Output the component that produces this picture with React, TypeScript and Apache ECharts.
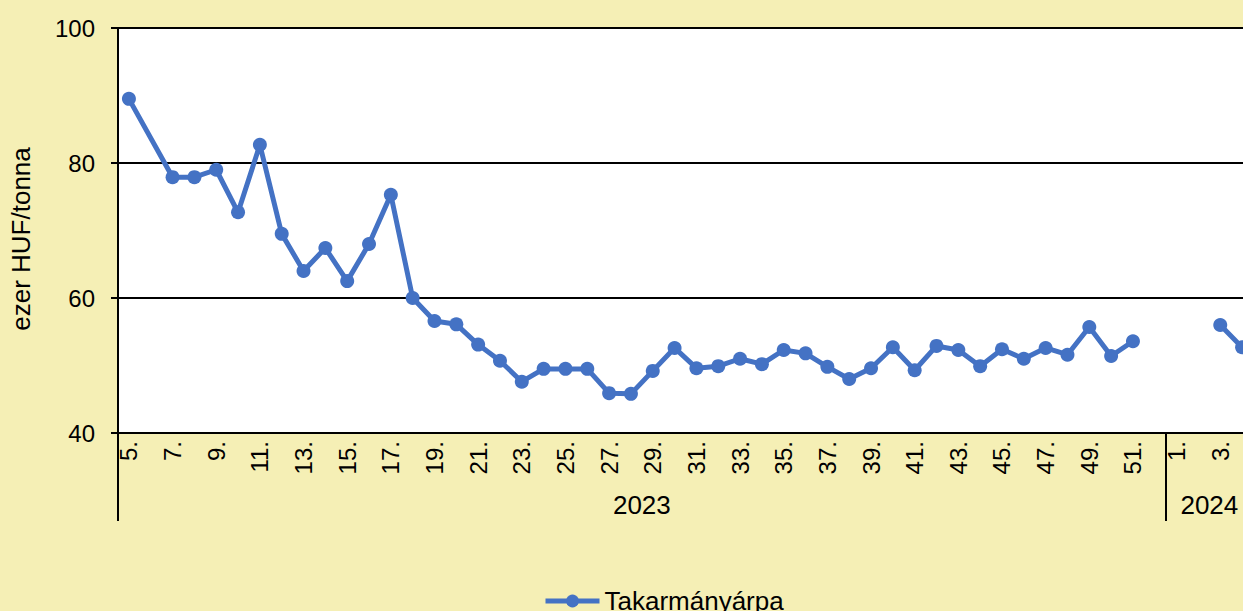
import React, { useEffect, useRef } from "react";
import * as echarts from "echarts";

const weeks2023 = [
  "5.", "6.", "7.", "8.", "9.", "10.", "11.", "12.", "13.", "14.", "15.", "16.",
  "17.", "18.", "19.", "20.", "21.", "22.", "23.", "24.", "25.", "26.", "27.", "28.",
  "29.", "30.", "31.", "32.", "33.", "34.", "35.", "36.", "37.", "38.", "39.", "40.",
  "41.", "42.", "43.", "44.", "45.", "46.", "47.", "48.", "49.", "50.", "51.", "52.",
];
const weeks2024 = ["1.", "2.", "3.", "4."];
const categories = [...weeks2023, ...weeks2024];
const yearLabels = ["2023", "2024"];

// null = gap in the line; week 6 has no value but the line runs across it
const values2023: (number | null)[] = [
  89.5, null, 77.9, 77.9, 79.0, 72.7, 82.7, 69.5, 64.0, 67.4, 62.5, 68.0,
  75.3, 60.0, 56.6, 56.1, 53.1, 50.7, 47.6, 49.5, 49.5, 49.5, 45.9, 45.8,
  49.2, 52.6, 49.6, 49.9, 51.0, 50.2, 52.3, 51.8, 49.8, 48.0, 49.6, 52.7,
  49.3, 52.9, 52.3, 49.9, 52.4, 51.0, 52.6, 51.6, 55.7, 51.4, 53.6, null,
];
const values2024: (number | null)[] = [null, null, 56.0, 52.7];
const connectedGaps = ["6."];
const seriesName = "Takarmányárpa";
const yTicks = [40, 60, 80, 100];

const FONT = "'Liberation Sans', Arial, sans-serif";

export default function App() {
  const ref = useRef<HTMLDivElement>(null);
  useEffect(() => {
    if (!ref.current) return;
    const chart = echarts.init(ref.current, undefined, { renderer: "svg" });
    const allValues = [...values2023, ...values2024];
    const data: any[] = [];
    allValues.forEach((v, i) => {
      if (v === null && connectedGaps.includes(categories[i])) return;
      data.push([i, v === null ? "-" : v]);
    });
    const n = categories.length;
    const boundary = weeks2023.length;
    chart.setOption({
      animation: false,
      backgroundColor: "#F5EFB5",
      textStyle: { fontFamily: FONT },
      grid: {
        left: 118,
        top: 28,
        width: 1135,
        height: 405,
        show: true,
        backgroundColor: "#ffffff",
        borderWidth: 0,
      },
      legend: {
        left: 538,
        top: 583,
        itemWidth: 54,
        itemHeight: 16,
        itemGap: 10,
        lineStyle: { width: 5 },
        textStyle: { fontSize: 26, color: "#000", fontFamily: FONT },
        data: [seriesName],
      },
      xAxis: [
        {
          type: "category",
          data: categories,
          boundaryGap: true,
          axisLine: { show: true, lineStyle: { color: "#000", width: 2 } },
          axisTick: { show: false },
          axisLabel: {
            interval: 1,
            rotate: 90,
            margin: 8,
            fontSize: 24,
            color: "#000",
            fontFamily: FONT,
          },
          splitLine: { show: false },
        },
        {
          type: "value",
          min: 0,
          max: n,
          position: "bottom",
          axisLine: { show: false },
          splitLine: { show: false },
          axisTick: {
            show: true,
            inside: false,
            length: 88,
            customValues: [0, boundary, n],
            lineStyle: { color: "#000", width: 2 },
          },
          axisLabel: {
            show: true,
            customValues: [boundary / 2, (boundary + n) / 2],
            formatter: (v: number) => (v < boundary ? yearLabels[0] : yearLabels[1]),
            margin: 59,
            fontSize: 26,
            color: "#000",
            fontFamily: FONT,
          },
        },
      ],
      yAxis: {
        type: "value",
        min: yTicks[0],
        max: yTicks[yTicks.length - 1],
        interval: 20,
        axisLine: { show: true, lineStyle: { color: "#000", width: 2 } },
        axisTick: { show: true, inside: false, length: 7, lineStyle: { color: "#000", width: 2 } },
        axisLabel: { margin: 23, fontSize: 24, color: "#000", fontFamily: FONT },
        splitLine: { show: true, lineStyle: { color: "#000", width: 2 } },
      },
      graphic: [
        {
          type: "text",
          x: 21,
          y: 239,
          rotation: Math.PI / 2,
          style: {
            text: "ezer HUF/tonna",
            fontSize: 26,
            fontFamily: FONT,
            fill: "#000",
            align: "center",
            verticalAlign: "middle",
          },
        },
      ],
      series: [
        {
          name: seriesName,
          type: "line",
          xAxisIndex: 0,
          data,
          connectNulls: false,
          symbol: "circle",
          symbolSize: 14,
          lineStyle: { color: "#4472C4", width: 5 },
          itemStyle: { color: "#4472C4" },
        },
      ],
    });
    return () => chart.dispose();
  }, []);
  return (
    <div
      style={{
        position: "fixed",
        left: 0,
        top: 0,
        width: 1243,
        height: 611,
        overflow: "hidden",
        background: "#F5EFB5",
      }}
    >
      <div ref={ref} style={{ width: 1300, height: 611 }} />
    </div>
  );
}
